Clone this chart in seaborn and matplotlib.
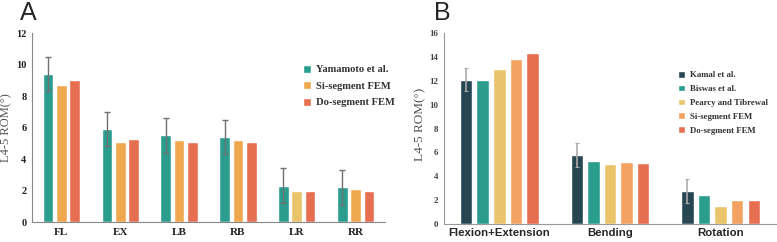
import matplotlib
matplotlib.use("Agg")
import matplotlib.pyplot as plt
import seaborn as sns
import pandas as pd
import numpy as np

# Panel A data
cats_a = ["FL", "EX", "LB", "RB", "LR", "RR"]
series_a = ["Yamamoto et al.", "Si-segment FEM", "Do-segment FEM"]
yamamoto = [9.4, 5.9, 5.5, 5.4, 2.3, 2.2]
si_a = [8.7, 5.1, 5.2, 5.2, 2.0, 2.1]
do_a = [9.0, 5.3, 5.1, 5.1, 2.0, 2.0]
yamamoto_err = [1.1, 1.1, 1.1, 1.1, 1.1, 1.1]

# Panel B data
cats_b = ["Flexion+Extension", "Bending", "Rotation"]
series_b = ["Kamal et al.", "Biswas et al.", "Pearcy and Tibrewal", "Si-segment FEM", "Do-segment FEM"]
kamal = [12.1, 5.8, 2.8]
biswas = [12.1, 5.3, 2.4]
pearcy = [13.0, 5.0, 1.5]
si_b = [13.8, 5.2, 2.0]
do_b = [14.3, 5.1, 2.0]
kamal_err = [1.0, 1.0, 1.0]

pal_a = ["#2a9d8f", "#f0a84f", "#e76f51"]
pal_b = ["#264653", "#2a9d8f", "#e9c46a", "#f4a261", "#e76f51"]

sns.set_style("white")
plt.rcParams["font.family"] = ["DejaVu Sans"]

fig = plt.figure(figsize=(7.77, 2.42), dpi=100)
axA = fig.add_axes([0.0412, 0.0826, 0.4543, 0.781])
axB = fig.add_axes([0.5714, 0.0744, 0.4273, 0.7892])

serif = "Liberation Serif"

dfA = pd.DataFrame({
    "cat": cats_a * 3,
    "series": [s for s in series_a for _ in cats_a],
    "val": yamamoto + si_a + do_a,
})
sns.barplot(data=dfA, x="cat", y="val", hue="series", hue_order=series_a,
            order=cats_a, palette=pal_a, width=0.68, gap=0.2, ax=axA,
            saturation=1, errorbar=None, legend=True)
bars = axA.patches[:len(cats_a)]
xs = [b.get_x() + b.get_width() / 2 for b in bars]
axA.errorbar(xs, yamamoto, yerr=yamamoto_err, fmt="none", ecolor="#707070",
             elinewidth=1.0, capsize=2.5, capthick=1.0)
# LR middle bar appears lighter yellow in the reference
axA.patches[len(cats_a) + 4].set_facecolor("#e9c46a")

axA.set_ylim(0, 12)
axA.set_yticks(range(0, 13, 2))
axA.set_xlim(-0.5, 5.5)
axA.set_xlabel("")
axA.set_ylabel("L4-5 ROM(°)", fontfamily=serif, fontsize=9, color="#555555")
axA.yaxis.label.set_va("center")
axA.yaxis.set_label_coords(-0.072, 0.50)
for lab in axA.get_yticklabels():
    lab.set_fontfamily(serif); lab.set_fontweight("bold"); lab.set_fontsize(7.5)
for lab in axA.get_xticklabels():
    lab.set_fontfamily(serif); lab.set_fontweight("bold"); lab.set_fontsize(8)
axA.tick_params(axis="both", length=0, pad=4, colors="#222222")
sns.despine(ax=axA)
for s in ["left", "bottom"]:
    axA.spines[s].set_color("#888888"); axA.spines[s].set_linewidth(0.8)
legA = axA.legend(loc="upper left", bbox_to_anchor=(0.755, 0.855), frameon=False,
                  prop={"family": serif, "weight": "bold", "size": 7.6},
                  handlelength=0.8, handleheight=0.8, handletextpad=0.5,
                  labelspacing=0.65, borderaxespad=0)
for t in legA.get_texts():
    t.set_color("#333333")

dfB = pd.DataFrame({
    "cat": cats_b * 5,
    "series": [s for s in series_b for _ in cats_b],
    "val": kamal + biswas + pearcy + si_b + do_b,
})
sns.barplot(data=dfB, x="cat", y="val", hue="series", hue_order=series_b,
            order=cats_b, palette=pal_b, width=0.75, gap=0.25, ax=axB,
            saturation=1, errorbar=None, legend=True)
barsB = axB.patches[:len(cats_b)]
xsB = [b.get_x() + b.get_width() / 2 for b in barsB]
axB.errorbar(xsB, kamal, yerr=kamal_err, fmt="none", ecolor="#aaaaaa",
             elinewidth=1.2, capsize=1.5, capthick=0.8)
axB.set_ylim(0, 16)
axB.set_yticks(range(0, 17, 2))
axB.set_xlim(-0.5, 2.5)
axB.set_xlabel("")
axB.set_ylabel("L4-5 ROM(°)", fontfamily=serif, fontsize=9.5, color="#555555")
axB.yaxis.label.set_va("center")
axB.yaxis.set_label_coords(-0.072, 0.52)
for lab in axB.get_yticklabels():
    lab.set_fontfamily(serif); lab.set_fontweight("bold"); lab.set_fontsize(6.5)
    lab.set_color("#444444")
for lab in axB.get_xticklabels():
    lab.set_fontfamily("Liberation Sans"); lab.set_fontweight("bold"); lab.set_fontsize(8.2)
axB.tick_params(axis="both", length=0, pad=4)
axB.tick_params(axis="x", pad=3)
sns.despine(ax=axB)
for s in ["left", "bottom"]:
    axB.spines[s].set_color("#999999"); axB.spines[s].set_linewidth(0.8)
legB = axB.legend(loc="upper left", bbox_to_anchor=(0.695, 0.82), frameon=False,
                  prop={"family": serif, "weight": "bold", "size": 6.3},
                  handlelength=0.8, handleheight=0.8, handletextpad=0.5,
                  labelspacing=0.62, borderaxespad=0)
for t in legB.get_texts():
    t.set_color("#333333")

fig.text(0.026, 0.995, "A", fontsize=18, va="top", ha="left", family="Liberation Sans")
fig.text(0.558, 0.995, "B", fontsize=18, va="top", ha="left", family="Liberation Sans")

fig.savefig("out.png", dpi=100)
